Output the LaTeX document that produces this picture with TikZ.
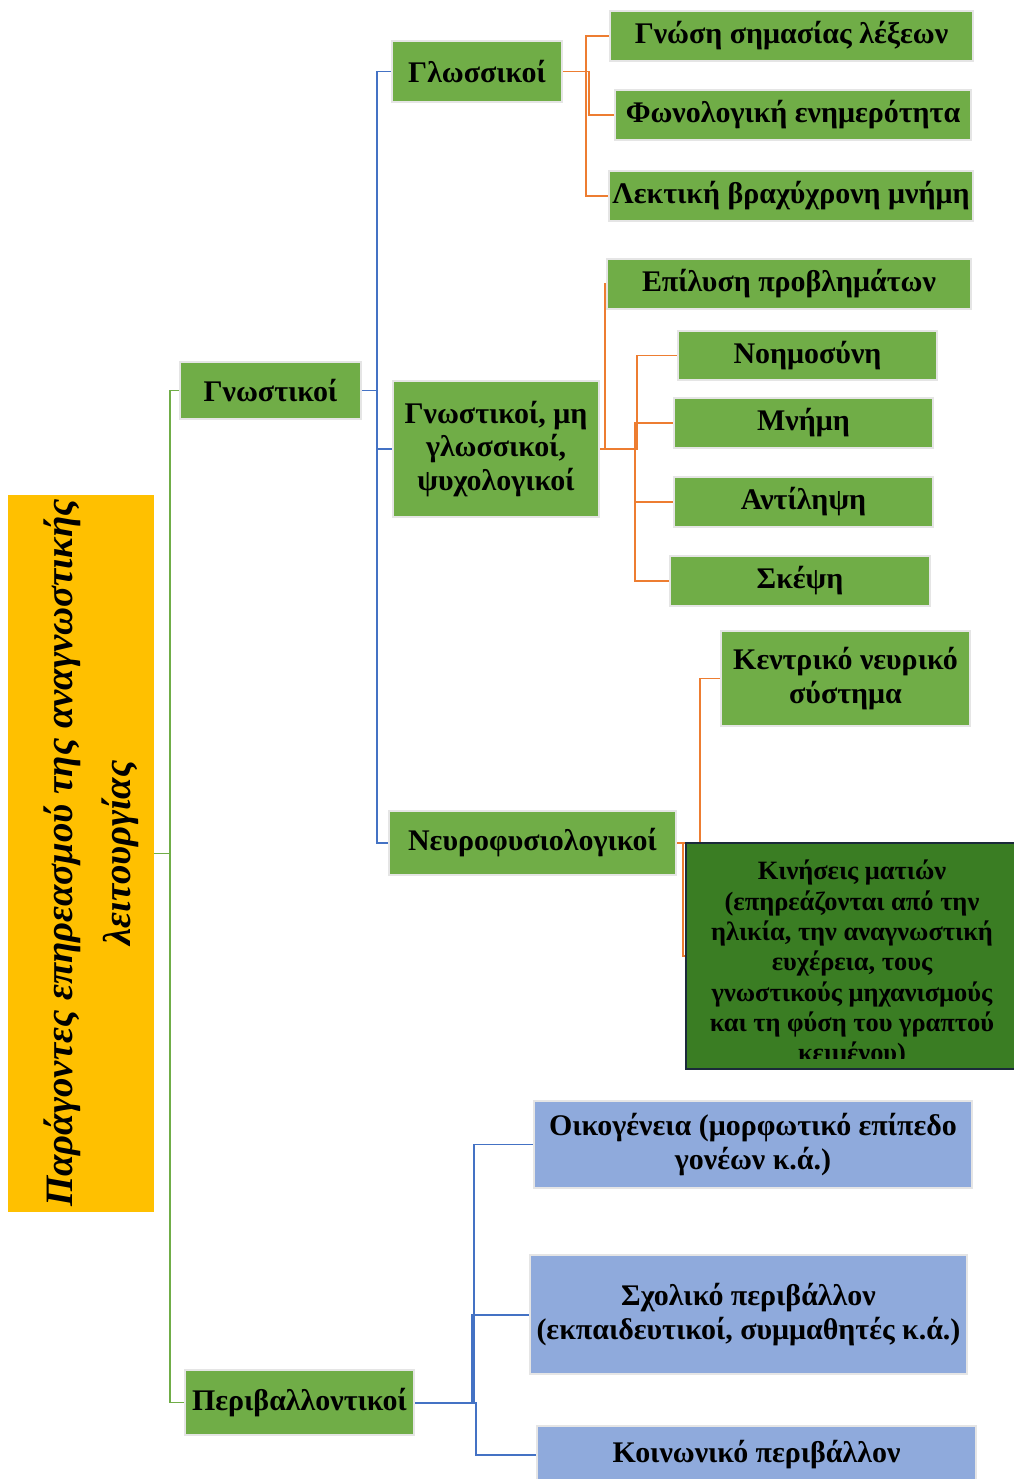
\documentclass[tikz,border=0pt]{standalone}
\usepackage{fontspec}
\setmainfont{Liberation Serif}
\usetikzlibrary{backgrounds}
\definecolor{grn}{HTML}{70AD47}
\definecolor{dgrn}{HTML}{3A7D23}
\definecolor{navy}{HTML}{1B2A3A}
\definecolor{gold}{HTML}{FFC000}
\definecolor{bbox}{HTML}{8FAADC}
\definecolor{bline}{HTML}{4472C4}
\definecolor{oline}{HTML}{ED7D31}
\begin{document}
\begin{tikzpicture}[x=0.025cm,y=-0.025cm,
    box/.style={draw=gray!20,line width=1.2pt,fill=grn,inner sep=2pt,align=center,
      font=\fontsize{21.3}{24}\selectfont\bfseries},
    bluebox/.style={box,fill=bbox},
    darkbox/.style={draw=navy,line width=1.8pt,fill=dgrn,inner sep=0pt},
    gline/.style={draw=grn,line width=1.3pt},
    bl/.style={draw=bline,line width=1.4pt},
    ol/.style={draw=oline,line width=1.4pt}]
    \useasboundingbox (0,0) rectangle (1013,1479);
    \node[fill=gold,inner sep=0pt,minimum width=3.65cm,minimum height=17.925cm] (title) at (81,853.5) {};
    \node[rotate=90,align=center,inner sep=0pt,font=\fontsize{27.6}{41}\selectfont\bfseries\itshape] (titletext)
      at (91,853) {Παράγοντες επηρεασμού της αναγνωστικής\\λειτουργίας};
    \node[box,minimum width=4.525cm,minimum height=1.425cm] (gnost) at (270.5,390.5) {Γνωστικοί};
    \node[box,minimum width=5.725cm,minimum height=1.625cm] (perib) at (299.5,1402.5) {Περιβαλλοντικοί};
    \node[box,minimum width=4.25cm,minimum height=1.525cm] (gloss) at (477,71.5) {Γλωσσικοί};
    \node[box,minimum width=9.075cm,minimum height=1.25cm] (gnosi) at (791.5,36) {Γνώση σημασίας λέξεων};
    \node[box,minimum width=8.9cm,minimum height=1.25cm] (fono) at (793,115) {Φωνολογική ενημερότητα};
    \node[box,minimum width=9.1cm,minimum height=1.25cm] (lekt) at (791,196) {Λεκτική βραχύχρονη μνήμη};
    \node[box,minimum width=5.15cm,minimum height=3.4cm] (mipsy) at (496,449) {Γνωστικοί, μη\\γλωσσικοί,\\ψυχολογικοί};
    \node[box,minimum width=9.1cm,minimum height=1.25cm] (epil) at (789,284) {Επίλυση προβλημάτων};
    \node[box,minimum width=6.475cm,minimum height=1.225cm] (noim) at (807.5,355.5) {Νοημοσύνη};
    \node[box,minimum width=6.475cm,minimum height=1.25cm] (mnimi) at (803.5,423) {Μνήμη};
    \node[box,minimum width=6.475cm,minimum height=1.25cm] (antil) at (803.5,502) {Αντίληψη};
    \node[box,minimum width=6.5cm,minimum height=1.25cm] (skepsi) at (800,581) {Σκέψη};
    \node[box,minimum width=7.175cm,minimum height=1.6cm] (neuro) at (532.5,843) {Νευροφυσιολογικοί};
    \node[box,minimum width=6.225cm,minimum height=2.375cm] (kns) at (845.5,678.5) {Κεντρικό νευρικό\\σύστημα};
    \node[darkbox,minimum width=8.3cm,minimum height=5.65cm] (matia) at (852,956) {};
    \begin{scope}
        \clip ([yshift=0.3cm]matia.south west) rectangle (matia.north east);
        \node[anchor=north,align=center,inner sep=0pt,font=\fontsize{18.8}{21.6}\selectfont\bfseries] (matiatext)
          at ([yshift=-0.45cm]matia.north) {Κινήσεις ματιών\\(επηρεάζονται από την\\ηλικία, την αναγνωστική\\ευχέρεια, τους\\γνωστικούς μηχανισμούς\\και τη φύση του γραπτού\\κειμένου)};
    \end{scope}
    \node[bluebox,minimum width=10.95cm,minimum height=2.175cm] (oikog) at (753,1144.5) {Οικογένεια (μορφωτικό επίπεδο\\γονέων κ.ά.)};
    \node[bluebox,minimum width=10.925cm,minimum height=2.975cm] (sxol) at (748.5,1314.5) {Σχολικό περιβάλλον\\(εκπαιδευτικοί, συμμαθητές κ.ά.)};
    \node[bluebox,minimum width=10.975cm,minimum height=1.45cm] (koin) at (756.5,1455) {Κοινωνικό περιβάλλον};
    \begin{scope}[on background layer]
        \draw[gline] (title.east) -- ++(16,0) |- (gnost.west);
        \draw[gline] (title.east) -- ++(16,0) |- (perib.west);
        \draw[bl] (gnost.east) -- ++(15,0) |- (gloss.west);
        \draw[bl] (gnost.east) -- ++(15,0) |- (mipsy.west);
        \draw[bl] (gnost.east) -- ++(15,0) |- (neuro.west);
        \draw[ol] (gloss.east) -- ++(23,0) |- (gnosi.west);
        \draw[ol] (gloss.east) -- ++(26,0) |- (fono.west);
        \draw[ol] (gloss.east) -- ++(23,0) |- (lekt.west);
        \draw[ol] (mipsy.east) -- ++(5,0) |- (epil.west);
        \draw[ol] (mipsy.east) -- ++(37,0) |- (noim.west);
        \draw[ol] (mipsy.east) -- ++(35,0) |- (mnimi.west);
        \draw[ol] (mipsy.east) -- ++(35,0) |- (antil.west);
        \draw[ol] (mipsy.east) -- ++(35,0) |- (skepsi.west);
        \draw[ol] (neuro.east) -- ++(23,0) |- (kns.west);
        \draw[ol] (neuro.east) -- ++(6,0) |- (matia.west);
        \draw[bl] (perib.east) -- ++(59,0) |- (oikog.west);
        \draw[bl] (perib.east) -- ++(57,0) |- (sxol.west);
        \draw[bl] (perib.east) -- ++(61,0) |- (koin.west);
    \end{scope}
\end{tikzpicture}
\end{document}
